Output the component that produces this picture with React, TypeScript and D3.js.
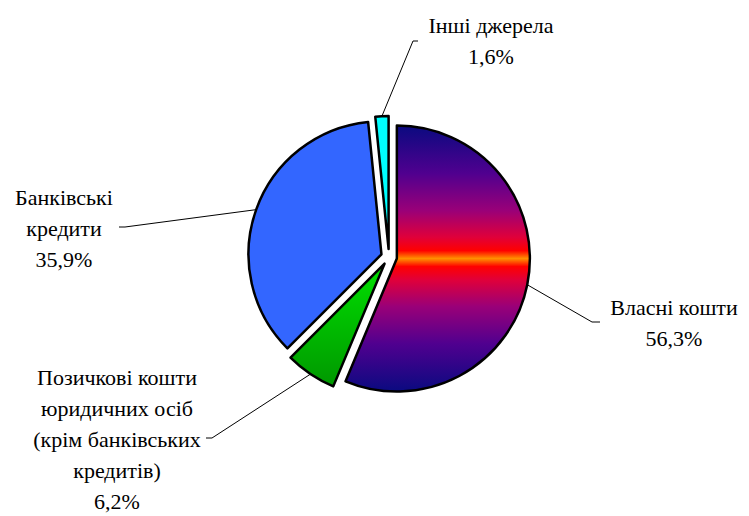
import React from 'react';
import * as d3 from 'd3';

// дані діаграми
const categories = ['Власні кошти', 'Позичкові кошти юридичних осіб (крім банківських кредитів)', 'Банківські кредити', 'Інші джерела'];
const values = [56.3, 6.2, 35.9, 1.6];
const valueLabels = ['56,3%', '6,2%', '35,9%', '1,6%'];
const labelLines = [
  ['Власні кошти'],
  ['Позичкові кошти', 'юридичних осіб', '(крім банківських', 'кредитів)'],
  ['Банківські', 'кредити'],
  ['Інші джерела'],
];

// розташування підписів (x центру, перша базова лінія, точка зламу виноски, кінець виноски)
const labelLayout = [
  { x: 674, y: 315, elbow: [592, 322], end: [600, 322] },
  { x: 117, y: 385, elbow: [212, 438], end: [206, 438] },
  { x: 64, y: 205, elbow: [125, 227], end: [119, 227] },
  { x: 491, y: 33, elbow: [413, 41], end: [418, 41] },
];

const fireStops: [number, string][] = [
  [0, '#0a0a80'], [0.18, '#50008f'], [0.32, '#9a0078'], [0.42, '#e0003a'],
  [0.47, '#ff0000'], [0.5, '#ff9000'], [0.53, '#ff0000'], [0.58, '#e0003a'],
  [0.68, '#9a0078'], [0.82, '#50008f'], [1, '#0a0a80'],
];
const fills = ['url(#g0)', 'url(#g1)', '#3366ff', '#00ffff'];

const width = 749;
const height = 516;
const cx = 389;
const cy = 257;
const radius = 133;
const explode = 8;
const lineHeight = 31;

const App = () => {
  const pie = d3.pie<number>().sort(null).value((d) => d);
  const arcs = pie(values);
  const arc = d3.arc<d3.PieArcDatum<number>>().innerRadius(0).outerRadius(radius);
  const line = d3.line();

  const offset = (d: d3.PieArcDatum<number>, dist: number) => {
    const a = (d.startAngle + d.endAngle) / 2;
    return [Math.sin(a) * dist, -Math.cos(a) * dist];
  };

  return (
    <svg width={width} height={height} overflow="visible">
      <defs>
        <linearGradient id="g0" x1={0} y1={0} x2={0} y2={1}>
          {fireStops.map(([o, c]) => <stop key={o} offset={o} stopColor={c} />)}
        </linearGradient>
        <linearGradient id="g1" x1={0} y1={0} x2={0} y2={1}>
          <stop offset={0} stopColor="#00e000" />
          <stop offset={1} stopColor="#009800" />
        </linearGradient>
      </defs>
      <g transform="translate(-8,-8)">
        <g transform={`translate(${cx},${cy})`}>
          {arcs.map((d, i) => {
            const [ox, oy] = offset(d, explode);
            return (
              <path
                key={categories[i]}
                transform={`translate(${ox},${oy})`}
                d={arc(d) || ''}
                fill={fills[i]}
                stroke="#000"
                strokeWidth={2.5}
                strokeLinejoin="round"
              />
            );
          })}
        </g>
        {arcs.map((d, i) => {
          const [ox, oy] = offset(d, explode);
          const [px, py] = offset(d, radius);
          const lay = labelLayout[i];
          const pts: [number, number][] = [
            [cx + ox + px, cy + oy + py],
            [lay.elbow[0], lay.elbow[1]],
            [lay.end[0], lay.end[1]],
          ];
          return <path key={categories[i]} d={line(pts) || ''} fill="none" stroke="#000" strokeWidth={1} />;
        })}
        {labelLayout.map((lay, i) =>
          [...labelLines[i], valueLabels[i]].map((t, j) => (
            <text
              key={`${i}-${j}`}
              x={lay.x}
              y={lay.y + j * lineHeight}
              textAnchor="middle"
              fontSize={22}
              style={{ fontFamily: 'Liberation Serif' }}
            >
              {t}
            </text>
          ))
        )}
      </g>
    </svg>
  );
};

export default App;
